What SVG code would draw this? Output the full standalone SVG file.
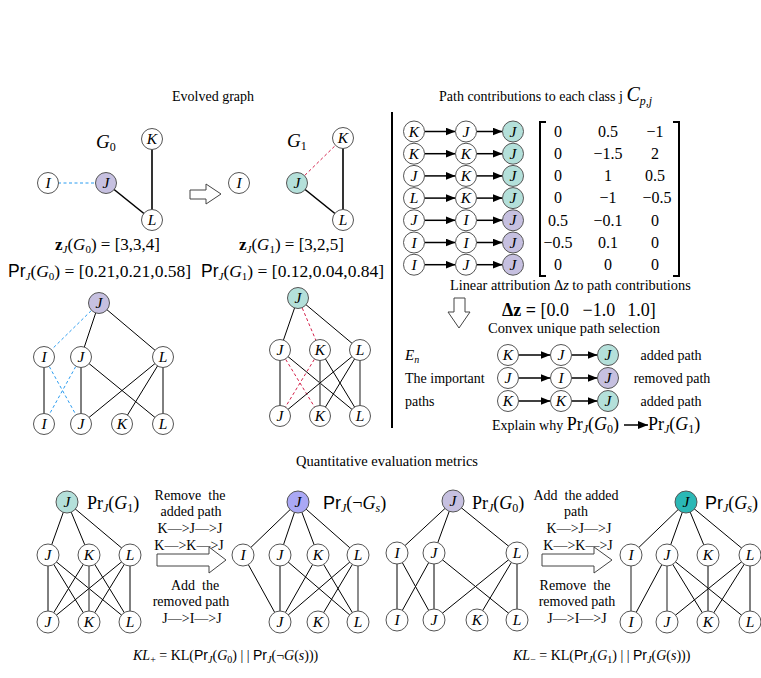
<svg xmlns="http://www.w3.org/2000/svg" width="761" height="678" viewBox="0 0 761 678">
<defs>
<style>
.n{fill:#fff;stroke:#555;stroke-width:1}
.p{fill:#c6c0e0;stroke:#555;stroke-width:1}
.t{fill:#b4e0da;stroke:#555;stroke-width:1}
.bp{fill:#aaa8f5;stroke:#555;stroke-width:1}
.dt{fill:#2bb8b6;stroke:#555;stroke-width:1}
.l{font-family:"Liberation Serif",serif;font-style:italic;font-size:15.5px;text-anchor:middle;fill:#000}
.e{stroke:#000;stroke-width:1;fill:none}
.e2{stroke:#000;stroke-width:1.6;fill:none}
.g{stroke:#808080;stroke-width:1.8;fill:none}
.bd{stroke:#2b9cf0;stroke-width:1;stroke-dasharray:3,2.5;fill:none}
.rd{stroke:#d4204a;stroke-width:1;stroke-dasharray:3,2.5;fill:none}
.tx{font-family:"Liberation Serif",serif;fill:#000}
.mid{text-anchor:middle}
.sans{font-family:"Liberation Sans",sans-serif}
.it{font-style:italic}
.arr{stroke:#000;stroke-width:1.5;fill:none;marker-end:url(#ah)}
.hol{fill:#fff;stroke:#444;stroke-width:1}
.m{font-family:"Liberation Serif",serif;font-size:16px;text-anchor:middle;fill:#000}
</style>
<marker id="ah" markerWidth="10" markerHeight="8" refX="10" refY="4" orient="auto" markerUnits="userSpaceOnUse"><path d="M0,0 L10,4 L0,8 z" fill="#000"/></marker>
</defs>
<rect width="761" height="678" fill="#fff"/>

<text class="tx mid" x="213" y="101" font-size="14">Evolved graph</text>
<text class="tx" x="439" y="101" font-size="14">Path contributions to each class j <tspan class="it" font-size="20">C</tspan><tspan class="it" font-size="12" dy="4">p,j</tspan></text>
<text class="tx mid" x="387" y="466" font-size="14.5">Quantitative evaluation metrics</text>

<line x1="392" y1="112" x2="392" y2="428" stroke="#000" stroke-width="2"/>

<g id="connectors">
  <line class="bd" x1="58" y1="183" x2="96" y2="183" stroke-width="1.5"/>
  <line class="e2" x1="106" y1="183" x2="152" y2="220"/>
  <line class="e2" x1="152" y1="139" x2="152" y2="220"/>
  <line class="rd" x1="297" y1="183" x2="343" y2="138" stroke-width="1.5"/>
  <line class="e2" x1="297" y1="183" x2="343" y2="220"/>
  <line class="e2" x1="343" y1="138" x2="343" y2="220"/>
  <line class="bd" x1="99" y1="303" x2="44" y2="357"/>
  <line class="e" x1="99" y1="303" x2="81" y2="357"/>
  <line class="e" x1="99" y1="303" x2="163" y2="357"/>
  <line class="e" x1="44" y1="357" x2="44" y2="424"/>
  <line class="bd" x1="44" y1="357" x2="81" y2="424"/>
  <line class="bd" x1="81" y1="357" x2="44" y2="424"/>
  <line class="e" x1="81" y1="357" x2="81" y2="424"/>
  <line class="e" x1="81" y1="357" x2="163" y2="424"/>
  <line class="e" x1="163" y1="357" x2="81" y2="424"/>
  <line class="e" x1="163" y1="357" x2="122" y2="424"/>
  <line class="e" x1="163" y1="357" x2="163" y2="424"/>
  <line class="e" x1="298" y1="298" x2="280" y2="350"/>
  <line class="rd" x1="298" y1="298" x2="320" y2="350"/>
  <line class="e" x1="298" y1="298" x2="360" y2="350"/>
  <line class="e" x1="280" y1="350" x2="280" y2="416"/>
  <line class="rd" x1="280" y1="350" x2="320" y2="416"/>
  <line class="e" x1="280" y1="350" x2="360" y2="416"/>
  <line class="rd" x1="320" y1="350" x2="280" y2="416"/>
  <line class="g" x1="320" y1="350" x2="320" y2="416"/>
  <line class="e" x1="320" y1="350" x2="360" y2="416"/>
  <line class="e" x1="360" y1="350" x2="280" y2="416"/>
  <line class="e" x1="360" y1="350" x2="320" y2="416"/>
  <line class="g" x1="360" y1="350" x2="360" y2="416"/>
  <line class="arr" x1="424.5" y1="131.5" x2="455.5" y2="131.5"/>
  <line class="arr" x1="476.5" y1="131.5" x2="502.5" y2="131.5"/>
  <line class="arr" x1="424.5" y1="153.7" x2="455.5" y2="153.7"/>
  <line class="arr" x1="476.5" y1="153.7" x2="502.5" y2="153.7"/>
  <line class="arr" x1="424.5" y1="175.9" x2="455.5" y2="175.9"/>
  <line class="arr" x1="476.5" y1="175.9" x2="502.5" y2="175.9"/>
  <line class="arr" x1="424.5" y1="198.1" x2="455.5" y2="198.1"/>
  <line class="arr" x1="476.5" y1="198.1" x2="502.5" y2="198.1"/>
  <line class="arr" x1="424.5" y1="220.3" x2="455.5" y2="220.3"/>
  <line class="arr" x1="476.5" y1="220.3" x2="502.5" y2="220.3"/>
  <line class="arr" x1="424.5" y1="242.5" x2="455.5" y2="242.5"/>
  <line class="arr" x1="476.5" y1="242.5" x2="502.5" y2="242.5"/>
  <line class="arr" x1="424.5" y1="264.7" x2="455.5" y2="264.7"/>
  <line class="arr" x1="476.5" y1="264.7" x2="502.5" y2="264.7"/>
  <line class="arr" x1="518.5" y1="355" x2="550.5" y2="355"/>
  <line class="arr" x1="571.5" y1="355" x2="597.5" y2="355"/>
  <line class="arr" x1="518.5" y1="378" x2="550.5" y2="378"/>
  <line class="arr" x1="571.5" y1="378" x2="597.5" y2="378"/>
  <line class="arr" x1="518.5" y1="401" x2="550.5" y2="401"/>
  <line class="arr" x1="571.5" y1="401" x2="597.5" y2="401"/>
  <line class="arr" x1="624" y1="425" x2="648" y2="425" stroke-width="1.2"/>
  <line class="e" x1="67" y1="502" x2="48" y2="555"/>
  <line class="e" x1="67" y1="502" x2="89" y2="555"/>
  <line class="e" x1="67" y1="502" x2="130" y2="555"/>
  <line class="e" x1="48" y1="555" x2="48" y2="622"/>
  <line class="e" x1="48" y1="555" x2="89" y2="622"/>
  <line class="e" x1="48" y1="555" x2="130" y2="622"/>
  <line class="e" x1="89" y1="555" x2="48" y2="622"/>
  <line class="g" x1="89" y1="555" x2="89" y2="622"/>
  <line class="e" x1="89" y1="555" x2="130" y2="622"/>
  <line class="e" x1="130" y1="555" x2="48" y2="622"/>
  <line class="e" x1="130" y1="555" x2="89" y2="622"/>
  <line class="e" x1="130" y1="555" x2="130" y2="622"/>
  <line class="e" x1="298" y1="502" x2="243" y2="555"/>
  <line class="e" x1="298" y1="502" x2="280" y2="555"/>
  <line class="e" x1="298" y1="502" x2="318" y2="555"/>
  <line class="e" x1="298" y1="502" x2="358" y2="555"/>
  <line class="e" x1="243" y1="555" x2="280" y2="622"/>
  <line class="e" x1="280" y1="555" x2="280" y2="622"/>
  <line class="e" x1="280" y1="555" x2="358" y2="622"/>
  <line class="e" x1="318" y1="555" x2="280" y2="622"/>
  <line class="e" x1="318" y1="555" x2="358" y2="622"/>
  <line class="e" x1="358" y1="555" x2="280" y2="622"/>
  <line class="e" x1="358" y1="555" x2="318" y2="622"/>
  <line class="g" x1="358" y1="555" x2="358" y2="622"/>
  <line class="e" x1="453" y1="501" x2="397" y2="553"/>
  <line class="e" x1="453" y1="501" x2="434" y2="553"/>
  <line class="e" x1="453" y1="501" x2="517" y2="553"/>
  <line class="e" x1="397" y1="553" x2="397" y2="620"/>
  <line class="e" x1="397" y1="553" x2="434" y2="620"/>
  <line class="e" x1="434" y1="553" x2="397" y2="620"/>
  <line class="e" x1="434" y1="553" x2="434" y2="620"/>
  <line class="e" x1="434" y1="553" x2="517" y2="620"/>
  <line class="e" x1="517" y1="553" x2="434" y2="620"/>
  <line class="e" x1="517" y1="553" x2="477" y2="620"/>
  <line class="e" x1="517" y1="553" x2="517" y2="620"/>
  <line class="e" x1="686" y1="502" x2="631" y2="555"/>
  <line class="e" x1="686" y1="502" x2="667" y2="555"/>
  <line class="e" x1="686" y1="502" x2="708" y2="555"/>
  <line class="e" x1="686" y1="502" x2="750" y2="555"/>
  <line class="g" x1="631" y1="555" x2="631" y2="622"/>
  <line class="e" x1="667" y1="555" x2="631" y2="622"/>
  <line class="g" x1="667" y1="555" x2="667" y2="622"/>
  <line class="e" x1="667" y1="555" x2="708" y2="622"/>
  <line class="e" x1="667" y1="555" x2="750" y2="622"/>
  <line class="e" x1="708" y1="555" x2="708" y2="622"/>
  <line class="e" x1="750" y1="555" x2="667" y2="622"/>
  <line class="e" x1="750" y1="555" x2="708" y2="622"/>
  <line class="e" x1="750" y1="555" x2="750" y2="622"/>
</g>

<polygon class="hol" points="190,190 206,190 206,184 221,194 206,204 206,199 190,199"/>
<polygon class="hol" points="454,298 465,298 465,312 470,312 459,328 448,312 454,312"/>
<polygon class="hol" points="157,554 209,554 209,547 226,560 209,573 209,566 157,566"/>
<polygon class="hol" points="542,554 594,554 594,547 612,560 594,573 594,566 542,566"/>

<g id="G0">
  <g id="g0-K"><circle class="n" cx="152" cy="139" r="10.5"/><text class="l" x="152" y="144">K</text></g>
  <g id="g0-I"><circle class="n" cx="48" cy="183" r="10.5"/><text class="l" x="48" y="188">I</text></g>
  <g id="g0-J"><circle class="p" cx="106" cy="183" r="10.5"/><text class="l" x="106" y="188">J</text></g>
  <g id="g0-L"><circle class="n" cx="152" cy="220" r="10.5"/><text class="l" x="152" y="225">L</text></g>
</g>
<text class="tx it" x="96" y="148" font-size="19">G<tspan font-size="12" dy="3" font-style="normal">0</tspan></text>
<g id="G1">
  <g id="g1-I"><circle class="n" cx="239" cy="183" r="10.5"/><text class="l" x="239" y="188">I</text></g>
  <g id="g1-J"><circle class="t" cx="297" cy="183" r="10.5"/><text class="l" x="297" y="188">J</text></g>
  <g id="g1-K"><circle class="n" cx="343" cy="138" r="10.5"/><text class="l" x="343" y="143">K</text></g>
  <g id="g1-L"><circle class="n" cx="343" cy="220" r="10.5"/><text class="l" x="343" y="225">L</text></g>
</g>
<text class="tx it" x="287" y="147" font-size="19">G<tspan font-size="12" dy="3" font-style="normal">1</tspan></text>

<text class="tx" x="55" y="250" font-size="17"><tspan font-weight="bold">z</tspan><tspan class="it" font-size="11" dy="3">J</tspan><tspan dy="-3">(</tspan><tspan class="it">G</tspan><tspan font-size="11" dy="3">0</tspan><tspan dy="-3">) = [3,3,4]</tspan></text>
<text class="tx" x="8" y="277" font-size="17.5"><tspan class="sans">Pr</tspan><tspan class="it" font-size="11" dy="3">J</tspan><tspan dy="-3">(</tspan><tspan class="it">G</tspan><tspan font-size="11" dy="3">0</tspan><tspan dy="-3">) = [0.21,0.21,0.58]</tspan></text>
<text class="tx" x="239" y="250" font-size="17"><tspan font-weight="bold">z</tspan><tspan class="it" font-size="11" dy="3">J</tspan><tspan dy="-3">(</tspan><tspan class="it">G</tspan><tspan font-size="11" dy="3">1</tspan><tspan dy="-3">) = [3,2,5]</tspan></text>
<text class="tx" x="201" y="277" font-size="17.5"><tspan class="sans">Pr</tspan><tspan class="it" font-size="11" dy="3">J</tspan><tspan dy="-3">(</tspan><tspan class="it">G</tspan><tspan font-size="11" dy="3">1</tspan><tspan dy="-3">) = [0.12,0.04,0.84]</tspan></text>

<g id="treeG0">
  <g id="t0-J"><circle class="p" cx="99" cy="303" r="10.5"/><text class="l" x="99" y="308">J</text></g>
  <g id="t0-I2"><circle class="n" cx="44" cy="357" r="10.5"/><text class="l" x="44" y="362">I</text></g>
  <g id="t0-J2"><circle class="n" cx="81" cy="357" r="10.5"/><text class="l" x="81" y="362">J</text></g>
  <g id="t0-L2"><circle class="n" cx="163" cy="357" r="10.5"/><text class="l" x="163" y="362">L</text></g>
  <g id="t0-I3"><circle class="n" cx="44" cy="424" r="10.5"/><text class="l" x="44" y="429">I</text></g>
  <g id="t0-J3"><circle class="n" cx="81" cy="424" r="10.5"/><text class="l" x="81" y="429">J</text></g>
  <g id="t0-K3"><circle class="n" cx="122" cy="424" r="10.5"/><text class="l" x="122" y="429">K</text></g>
  <g id="t0-L3"><circle class="n" cx="163" cy="424" r="10.5"/><text class="l" x="163" y="429">L</text></g>
</g>
<g id="treeG1">
  <g id="t1-J"><circle class="t" cx="298" cy="298" r="10.5"/><text class="l" x="298" y="303">J</text></g>
  <g id="t1-J2"><circle class="n" cx="280" cy="350" r="10.5"/><text class="l" x="280" y="355">J</text></g>
  <g id="t1-K2"><circle class="n" cx="320" cy="350" r="10.5"/><text class="l" x="320" y="355">K</text></g>
  <g id="t1-L2"><circle class="n" cx="360" cy="350" r="10.5"/><text class="l" x="360" y="355">L</text></g>
  <g id="t1-J3"><circle class="n" cx="280" cy="416" r="10.5"/><text class="l" x="280" y="421">J</text></g>
  <g id="t1-K3"><circle class="n" cx="320" cy="416" r="10.5"/><text class="l" x="320" y="421">K</text></g>
  <g id="t1-L3"><circle class="n" cx="360" cy="416" r="10.5"/><text class="l" x="360" y="421">L</text></g>
</g>

<g id="paths">
  <g id="pr1"><circle class="n" cx="414" cy="131.5" r="10.5"/><text class="l" x="414" y="136.5">K</text><circle class="n" cx="466" cy="131.5" r="10.5"/><text class="l" x="466" y="136.5">J</text><circle class="t" cx="513" cy="131.5" r="10.5"/><text class="l" x="513" y="136.5">J</text></g>
  <g id="pr2"><circle class="n" cx="414" cy="153.7" r="10.5"/><text class="l" x="414" y="158.7">K</text><circle class="n" cx="466" cy="153.7" r="10.5"/><text class="l" x="466" y="158.7">K</text><circle class="t" cx="513" cy="153.7" r="10.5"/><text class="l" x="513" y="158.7">J</text></g>
  <g id="pr3"><circle class="n" cx="414" cy="175.9" r="10.5"/><text class="l" x="414" y="180.9">J</text><circle class="n" cx="466" cy="175.9" r="10.5"/><text class="l" x="466" y="180.9">K</text><circle class="t" cx="513" cy="175.9" r="10.5"/><text class="l" x="513" y="180.9">J</text></g>
  <g id="pr4"><circle class="n" cx="414" cy="198.1" r="10.5"/><text class="l" x="414" y="203.1">L</text><circle class="n" cx="466" cy="198.1" r="10.5"/><text class="l" x="466" y="203.1">K</text><circle class="t" cx="513" cy="198.1" r="10.5"/><text class="l" x="513" y="203.1">J</text></g>
  <g id="pr5"><circle class="n" cx="414" cy="220.3" r="10.5"/><text class="l" x="414" y="225.3">J</text><circle class="n" cx="466" cy="220.3" r="10.5"/><text class="l" x="466" y="225.3">I</text><circle class="p" cx="513" cy="220.3" r="10.5"/><text class="l" x="513" y="225.3">J</text></g>
  <g id="pr6"><circle class="n" cx="414" cy="242.5" r="10.5"/><text class="l" x="414" y="247.5">I</text><circle class="n" cx="466" cy="242.5" r="10.5"/><text class="l" x="466" y="247.5">I</text><circle class="p" cx="513" cy="242.5" r="10.5"/><text class="l" x="513" y="247.5">J</text></g>
  <g id="pr7"><circle class="n" cx="414" cy="264.7" r="10.5"/><text class="l" x="414" y="269.7">I</text><circle class="n" cx="466" cy="264.7" r="10.5"/><text class="l" x="466" y="269.7">J</text><circle class="p" cx="513" cy="264.7" r="10.5"/><text class="l" x="513" y="269.7">J</text></g>
</g>

<g id="matrix">
  <path d="M546,122 L540,122 L540,276 L546,276" fill="none" stroke="#000" stroke-width="2"/>
  <path d="M673,122 L679,122 L679,276 L673,276" fill="none" stroke="#000" stroke-width="2"/>
  <text class="m" x="558" y="137">0</text><text class="m" x="608" y="137">0.5</text><text class="m" x="655" y="137">−1</text>
  <text class="m" x="558" y="159">0</text><text class="m" x="608" y="159">−1.5</text><text class="m" x="655" y="159">2</text>
  <text class="m" x="558" y="181">0</text><text class="m" x="608" y="181">1</text><text class="m" x="655" y="181">0.5</text>
  <text class="m" x="558" y="203">0</text><text class="m" x="608" y="203">−1</text><text class="m" x="657" y="203">−0.5</text>
  <text class="m" x="558" y="226">0.5</text><text class="m" x="608" y="226">−0.1</text><text class="m" x="655" y="226">0</text>
  <text class="m" x="558" y="248">−0.5</text><text class="m" x="608" y="248">0.1</text><text class="m" x="655" y="248">0</text>
  <text class="m" x="558" y="270">0</text><text class="m" x="608" y="270">0</text><text class="m" x="655" y="270">0</text>
</g>

<text class="tx" x="450" y="290" font-size="14.3">Linear attribution Δ<tspan class="it">z</tspan> to path contributions</text>
<text class="tx" x="502" y="316" font-size="18"><tspan font-weight="bold">Δz =</tspan> [0.0 <tspan dx="9">−1.0</tspan><tspan dx="12">1.0]</tspan></text>
<text class="tx" x="488" y="333" font-size="14.5">Convex unique path selection</text>

<text class="tx it" x="405" y="360" font-size="15">E<tspan font-size="10" dy="3">n</tspan></text>
<text class="tx" x="405" y="383" font-size="14">The important</text>
<text class="tx" x="405" y="406" font-size="14">paths</text>

<g id="important">
  <g id="ip1"><circle class="n" cx="508" cy="355" r="10.5"/><text class="l" x="508" y="360">K</text><circle class="n" cx="561" cy="355" r="10.5"/><text class="l" x="561" y="360">J</text><circle class="t" cx="608" cy="355" r="10.5"/><text class="l" x="608" y="360">J</text></g>
  <g id="ip2"><circle class="n" cx="508" cy="378" r="10.5"/><text class="l" x="508" y="383">J</text><circle class="n" cx="561" cy="378" r="10.5"/><text class="l" x="561" y="383">I</text><circle class="p" cx="608" cy="378" r="10.5"/><text class="l" x="608" y="383">J</text></g>
  <g id="ip3"><circle class="n" cx="508" cy="401" r="10.5"/><text class="l" x="508" y="406">K</text><circle class="n" cx="561" cy="401" r="10.5"/><text class="l" x="561" y="406">K</text><circle class="t" cx="608" cy="401" r="10.5"/><text class="l" x="608" y="406">J</text></g>
</g>
<text class="tx mid" x="671" y="360" font-size="14">added path</text>
<text class="tx mid" x="672" y="383" font-size="14">removed path</text>
<text class="tx mid" x="671" y="406" font-size="14">added path</text>

<text class="tx" x="492" y="430" font-size="14">Explain why <tspan font-size="18">Pr</tspan><tspan class="it" font-size="12" dy="3">J</tspan><tspan font-size="18" dy="-3">(</tspan><tspan class="it" font-size="18">G</tspan><tspan font-size="12" dy="3">0</tspan><tspan font-size="18" dy="-3">)</tspan></text>
<text class="tx" x="648" y="430" font-size="18">Pr<tspan class="it" font-size="12" dy="3">J</tspan><tspan dy="-3">(</tspan><tspan class="it">G</tspan><tspan font-size="12" dy="3">1</tspan><tspan dy="-3">)</tspan></text>

<g id="treeA">
  <g id="a-J"><circle class="t" cx="67" cy="502" r="11"/><text class="l" x="67" y="507">J</text></g>
  <g id="a-J2"><circle class="n" cx="48" cy="555" r="11"/><text class="l" x="48" y="560">J</text></g>
  <g id="a-K2"><circle class="n" cx="89" cy="555" r="11"/><text class="l" x="89" y="560">K</text></g>
  <g id="a-L2"><circle class="n" cx="130" cy="555" r="11"/><text class="l" x="130" y="560">L</text></g>
  <g id="a-J3"><circle class="n" cx="48" cy="622" r="11"/><text class="l" x="48" y="627">J</text></g>
  <g id="a-K3"><circle class="n" cx="89" cy="622" r="11"/><text class="l" x="89" y="627">K</text></g>
  <g id="a-L3"><circle class="n" cx="130" cy="622" r="11"/><text class="l" x="130" y="627">L</text></g>
</g>
<g id="treeB">
  <g id="b-J"><circle class="bp" cx="298" cy="502" r="11"/><text class="l" x="298" y="507">J</text></g>
  <g id="b-I2"><circle class="n" cx="243" cy="555" r="11"/><text class="l" x="243" y="560">I</text></g>
  <g id="b-J2"><circle class="n" cx="280" cy="555" r="11"/><text class="l" x="280" y="560">J</text></g>
  <g id="b-K2"><circle class="n" cx="318" cy="555" r="11"/><text class="l" x="318" y="560">K</text></g>
  <g id="b-L2"><circle class="n" cx="358" cy="555" r="11"/><text class="l" x="358" y="560">L</text></g>
  <g id="b-J3"><circle class="n" cx="280" cy="622" r="11"/><text class="l" x="280" y="627">J</text></g>
  <g id="b-K3"><circle class="n" cx="318" cy="622" r="11"/><text class="l" x="318" y="627">K</text></g>
  <g id="b-L3"><circle class="n" cx="358" cy="622" r="11"/><text class="l" x="358" y="627">L</text></g>
</g>
<g id="treeC">
  <g id="c-J"><circle class="p" cx="453" cy="501" r="11"/><text class="l" x="453" y="506">J</text></g>
  <g id="c-I2"><circle class="n" cx="397" cy="553" r="11"/><text class="l" x="397" y="558">I</text></g>
  <g id="c-J2"><circle class="n" cx="434" cy="553" r="11"/><text class="l" x="434" y="558">J</text></g>
  <g id="c-L2"><circle class="n" cx="517" cy="553" r="11"/><text class="l" x="517" y="558">L</text></g>
  <g id="c-I3"><circle class="n" cx="397" cy="620" r="11"/><text class="l" x="397" y="625">I</text></g>
  <g id="c-J3"><circle class="n" cx="434" cy="620" r="11"/><text class="l" x="434" y="625">J</text></g>
  <g id="c-K3"><circle class="n" cx="477" cy="620" r="11"/><text class="l" x="477" y="625">K</text></g>
  <g id="c-L3"><circle class="n" cx="517" cy="620" r="11"/><text class="l" x="517" y="625">L</text></g>
</g>
<g id="treeD">
  <g id="d-J"><circle class="dt" cx="686" cy="502" r="11"/><text class="l" x="686" y="507">J</text></g>
  <g id="d-I2"><circle class="n" cx="631" cy="555" r="11"/><text class="l" x="631" y="560">I</text></g>
  <g id="d-J2"><circle class="n" cx="667" cy="555" r="11"/><text class="l" x="667" y="560">J</text></g>
  <g id="d-K2"><circle class="n" cx="708" cy="555" r="11"/><text class="l" x="708" y="560">K</text></g>
  <g id="d-L2"><circle class="n" cx="750" cy="555" r="11"/><text class="l" x="750" y="560">L</text></g>
  <g id="d-I3"><circle class="n" cx="631" cy="622" r="11"/><text class="l" x="631" y="627">I</text></g>
  <g id="d-J3"><circle class="n" cx="667" cy="622" r="11"/><text class="l" x="667" y="627">J</text></g>
  <g id="d-K3"><circle class="n" cx="708" cy="622" r="11"/><text class="l" x="708" y="627">K</text></g>
  <g id="d-L3"><circle class="n" cx="750" cy="622" r="11"/><text class="l" x="750" y="627">L</text></g>
</g>

<text class="tx" x="87" y="509" font-size="18">Pr<tspan class="it" font-size="12" dy="3">J</tspan><tspan dy="-3">(</tspan><tspan class="it">G</tspan><tspan font-size="12" dy="3">1</tspan><tspan dy="-3">)</tspan></text>
<text class="tx" x="323" y="509" font-size="18"><tspan class="sans">Pr</tspan><tspan class="it" font-size="12" dy="3">J</tspan><tspan dy="-3">(¬</tspan><tspan class="it">G</tspan><tspan class="it" font-size="12" dy="3">s</tspan><tspan dy="-3">)</tspan></text>
<text class="tx" x="472" y="509" font-size="18">Pr<tspan class="it" font-size="12" dy="3">J</tspan><tspan dy="-3">(</tspan><tspan class="it">G</tspan><tspan font-size="12" dy="3">0</tspan><tspan dy="-3">)</tspan></text>
<text class="tx" x="705" y="509" font-size="18"><tspan class="sans">Pr</tspan><tspan class="it" font-size="12" dy="3">J</tspan><tspan dy="-3">(</tspan><tspan class="it">G</tspan><tspan class="it" font-size="12" dy="3">s</tspan><tspan dy="-3">)</tspan></text>

<g class="tx mid" font-size="14">
  <text x="190" y="500" xml:space="preserve">Remove  the</text>
  <text x="191" y="516">added path</text>
  <text x="190" y="533">K—&gt;J—&gt;J</text>
  <text x="189" y="550">K—&gt;K—&gt;J</text>
  <text x="195" y="590" xml:space="preserve">Add  the</text>
  <text x="191" y="606">removed path</text>
  <text x="192" y="623">J—&gt;I—&gt;J</text>
  <text x="576" y="500" xml:space="preserve">Add  the added</text>
  <text x="576" y="516">path</text>
  <text x="579" y="533">K—&gt;J—&gt;J</text>
  <text x="578" y="550">K—&gt;K—&gt;J</text>
  <text x="575" y="590" xml:space="preserve">Remove  the</text>
  <text x="577" y="606">removed path</text>
  <text x="577" y="623">J—&gt;I—&gt;J</text>
</g>

<text class="tx" x="133" y="660" font-size="14"><tspan class="it">KL</tspan><tspan font-size="10" dy="3">+</tspan><tspan dy="-3"> = KL(</tspan><tspan class="sans">Pr</tspan><tspan class="it" font-size="10" dy="3">J</tspan><tspan dy="-3">(</tspan><tspan class="it">G</tspan><tspan font-size="10" dy="3">0</tspan><tspan dy="-3">) | | </tspan><tspan class="sans">Pr</tspan><tspan class="it" font-size="10" dy="3">J</tspan><tspan dy="-3">(¬</tspan><tspan class="it">G</tspan>(<tspan class="it">s</tspan>)))</text>
<text class="tx" x="513" y="660" font-size="14"><tspan class="it">KL</tspan><tspan font-size="10" dy="3">−</tspan><tspan dy="-3"> = KL(</tspan><tspan class="sans">Pr</tspan><tspan class="it" font-size="10" dy="3">J</tspan><tspan dy="-3">(</tspan><tspan class="it">G</tspan><tspan font-size="10" dy="3">1</tspan><tspan dy="-3">) | | </tspan><tspan class="sans">Pr</tspan><tspan class="it" font-size="10" dy="3">J</tspan><tspan dy="-3">(</tspan><tspan class="it">G</tspan>(<tspan class="it">s</tspan>)))</text>
</svg>
